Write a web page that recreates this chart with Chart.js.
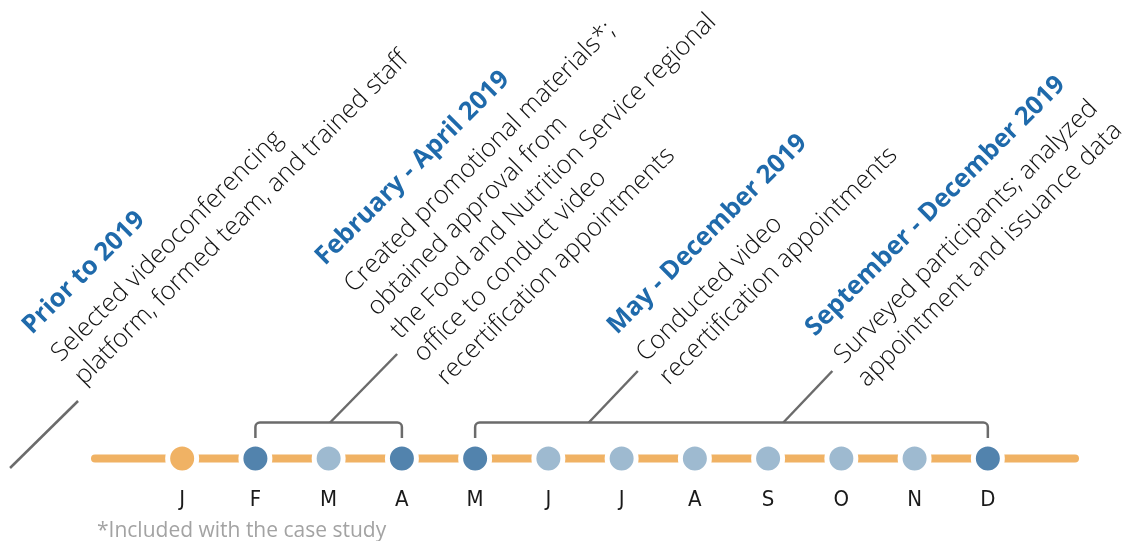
<!DOCTYPE html>
<html>
<head>
<meta charset="utf-8">
<script src="https://cdn.jsdelivr.net/npm/chart.js@4"></script>
<style>
  html, body { margin: 0; padding: 0; background: #ffffff; }
  #wrap { position: relative; width: 1130px; height: 541px; }
</style>
</head>
<body>
<div id="wrap"><canvas id="c"></canvas></div>
<script>
// ---- data ----
const months = ['J', 'F', 'M', 'A', 'M', 'J', 'J', 'A', 'S', 'O', 'N', 'D'];
const monthStatus = ['prior', 'edge', 'inside', 'edge', 'edge', 'inside', 'inside', 'inside', 'inside', 'inside', 'inside', 'edge'];
const eventTitles = ['Prior to 2019', 'February - April 2019', 'May - December 2019', 'September - December 2019'];
const eventLines = [
  ['Selected videoconferencing', 'platform, formed team, and trained staff'],
  ['Created promotional materials*;', 'obtained approval from', 'the Food and Nutrition Service regional', 'office to conduct video', 'recertification appointments'],
  ['Conducted video', 'recertification appointments'],
  ['Surveyed participants; analyzed', 'appointment and issuance data']
];
const brackets = [[1, 3], [4, 11]];
const footnote = '*Included with the case study';

// ---- styles / layout ----
const colors = { prior: '#F0B264', edge: '#5283AD', inside: '#9EBAD0' };
const ORANGE = '#F0B264';
const LINE_GRAY = '#6b6b6b';
const TITLE_BLUE = '#1F6AAB';
const X_MIN = -1.19, X_MAX = 12.19;
const layout = [
  { lx: -2.35, ly: 468, dx: 68, dy: -67, tx: 32, ty: 335 },
  { lx: 2.02, ly: 422.5, dx: 67, dy: -68.5, tx: 325, ty: 266 },
  { lx: 5.552, ly: 422.5, dx: 49, dy: -51.5, tx: 617, ty: 335 },
  { lx: 8.208, ly: 422.5, dx: 49, dy: -51.5, tx: 815, ty: 337 }
];
const BR_TOP = 422.5, BR_DROP = 438, BR_R = 4.5;

const annotations = {
  id: 'annotations',
  beforeDatasetsDraw(chart) {
    const ctx = chart.ctx, xs = chart.scales.x;
    ctx.save();
    ctx.strokeStyle = LINE_GRAY;
    ctx.lineWidth = 2.5;
    ctx.lineJoin = 'round';
    brackets.forEach(([a, b]) => {
      const x0 = xs.getPixelForValue(a), x1 = xs.getPixelForValue(b);
      ctx.beginPath();
      ctx.moveTo(x0, BR_DROP);
      ctx.lineTo(x0, BR_TOP + BR_R);
      ctx.arcTo(x0, BR_TOP, x0 + BR_R, BR_TOP, BR_R);
      ctx.lineTo(x1 - BR_R, BR_TOP);
      ctx.arcTo(x1, BR_TOP, x1, BR_TOP + BR_R, BR_R);
      ctx.lineTo(x1, BR_DROP);
      ctx.stroke();
    });
    layout.forEach(l => {
      const bx = xs.getPixelForValue(l.lx);
      ctx.beginPath();
      ctx.moveTo(bx, l.ly);
      ctx.lineTo(bx + l.dx, l.ly + l.dy);
      ctx.stroke();
    });
    ctx.restore();
  },
  afterDraw(chart) {
    const ctx = chart.ctx;
    ctx.save();
    eventTitles.forEach((t, i) => {
      const l = layout[i];
      ctx.save();
      ctx.translate(l.tx, l.ty);
      ctx.rotate(-Math.PI / 4);
      ctx.textBaseline = 'alphabetic';
      ctx.textAlign = 'left';
      ctx.fillStyle = TITLE_BLUE;
      ctx.font = '700 25.5px "Open Sans"';
      ctx.fillText(t, 0, 0);
      ctx.fillStyle = '#111111';
      ctx.font = '300 25.5px "Open Sans"';
      eventLines[i].forEach((line, k) => {
        ctx.fillText(line, 1, 40 + k * 32.7);
      });
      ctx.restore();
    });
    ctx.fillStyle = '#a3a3a3';
    ctx.font = '400 21px "Open Sans"';
    ctx.textBaseline = 'alphabetic';
    ctx.fillText(footnote, 97, 537);
    ctx.restore();
  }
};

new Chart(document.getElementById('c'), {
  type: 'scatter',
  data: {
    datasets: [
      {
        type: 'line',
        data: [{ x: X_MIN, y: 0 }, { x: X_MAX, y: 0 }],
        borderColor: ORANGE,
        borderWidth: 8,
        borderCapStyle: 'round',
        pointRadius: 0,
        clip: false,
        order: 2
      },
      {
        data: months.map((m, i) => ({ x: i, y: 0 })),
        backgroundColor: monthStatus.map(s => colors[s]),
        borderColor: '#ffffff',
        borderWidth: 5,
        pointRadius: 14.5,
        pointHoverRadius: 14.5,
        clip: false,
        order: 1
      }
    ]
  },
  options: {
    responsive: true,
    maintainAspectRatio: false,
    animation: false,
    events: [],
    layout: { padding: { top: 438, left: 95, right: 55, bottom: 21 } },
    plugins: { legend: { display: false }, tooltip: { enabled: false } },
    scales: {
      x: {
        type: 'linear',
        min: X_MIN,
        max: X_MAX,
        grid: { display: false, drawTicks: false },
        border: { display: false },
        afterBuildTicks: (s) => { s.ticks = months.map((m, i) => ({ value: i })); },
        ticks: {
          padding: 8,
          autoSkip: false,
          maxRotation: 0,
          color: '#1a1a1a',
          font: { family: '"DejaVu Sans Condensed", "Roboto", sans-serif', size: 22, weight: '300' },
          callback: (v) => months[v]
        }
      },
      y: { display: false, min: -1, max: 1 }
    }
  },
  plugins: [annotations]
});
</script>
</body>
</html>
